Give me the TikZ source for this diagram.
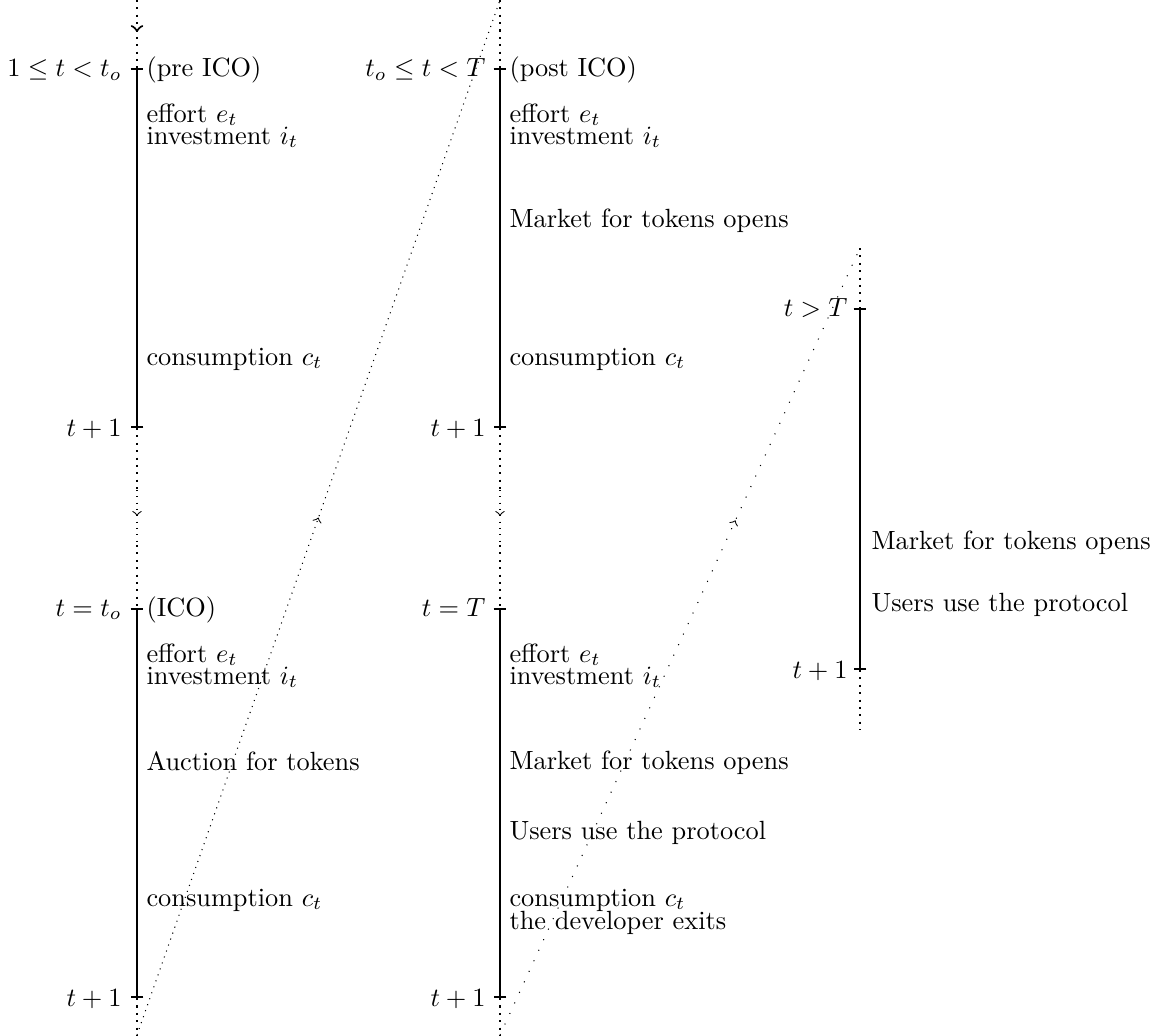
\documentclass[tikz,border=0pt]{standalone}
\usetikzlibrary{arrows.meta,decorations.markings}
\begin{document}
\begin{tikzpicture}[x=0.3797pt,y=-0.3797pt,
  period/.style={thick,{Bar[width=4.9pt]}-{Bar[width=4.9pt]}},
  gap/.style={thick,dotted},
  thingap/.style={dotted},
  looselink/.style={loosely dotted},
  midarrow/.style={postaction={decorate},
    decoration={markings,mark=at position #1 with {\arrow{to}}}},
  when/.style={anchor=base east,inner sep=0pt},
  what/.style={anchor=base west,inner sep=0pt}]
\useasboundingbox (0,0) rectangle (1161,1035);

% ---- column 1: pre ICO and ICO periods ----
\coordinate (a0) at (137,0);
\coordinate (a1) at (137,68);
\coordinate (a2) at (137,428);
\coordinate (a2b) at (137,490);
\coordinate (a3b) at (137,545);
\coordinate (a3) at (137,608);
\coordinate (a4) at (137,998);
\coordinate (a5) at (137,1035);

% ---- column 2: post ICO periods and last period ----
\coordinate (b0) at (500,0);
\coordinate (b1) at (500,68);
\coordinate (b2) at (500,428);
\coordinate (b2b) at (500,490);
\coordinate (b3b) at (500,545);
\coordinate (b3) at (500,608);
\coordinate (b4) at (500,998);
\coordinate (b5) at (500,1035);

% ---- column 3: after T ----
\coordinate (c0) at (860,248);
\coordinate (c1) at (860,308);
\coordinate (c2) at (860,670);
\coordinate (c3) at (860,730);

% timelines
\draw[period] (a1) -- (a2);
\draw[period] (a3) -- (a4);
\draw[period] (b1) -- (b2);
\draw[period] (b3) -- (b4);
\draw[period] (c1) -- (c2);

% dotted continuations
\draw[gap,midarrow=0.47] (a0) -- (a1);
\draw[gap] (a2) -- (a2b);
\draw[thingap,midarrow=0.47] (a2b) -- (a3b);
\draw[gap] (a3b) -- (a3);
\draw[gap] (a4) -- (a5);

\draw[gap] (b0) -- (b1);
\draw[gap] (b2) -- (b2b);
\draw[thingap,midarrow=0.47] (b2b) -- (b3b);
\draw[gap] (b3b) -- (b3);
\draw[gap] (b4) -- (b5);

\draw[gap] (c0) -- (c1);
\draw[gap] (c2) -- (c3);

% links between columns
\draw[thingap,midarrow=0.5] (a5) -- (b0);
\draw[looselink,midarrow=0.654] (b5) -- (c0);

% labels, column 1
\node[when] (la1) at (122,77) {$1\leq t<t_o$};
\node[what] (ra1) at (146,77) {(pre ICO)};
\node[what] (ra2) at (146,122) {effort $e_t$};
\node[what] (ra3) at (146,144) {investment $i_t$};
\node[what] (ra4) at (146,365) {consumption $c_t$};
\node[when] (la2) at (122,436) {$t+1$};

\node[when] (la3) at (122,616) {$t=t_o$};
\node[what] (ra5) at (146,616) {(ICO)};
\node[what] (ra6) at (146,662) {effort $e_t$};
\node[what] (ra7) at (146,684) {investment $i_t$};
\node[what] (ra8) at (146,770) {Auction for tokens};
\node[what] (ra9) at (146,906) {consumption $c_t$};
\node[when] (la4) at (122,1006) {$t+1$};

% labels, column 2
\node[when] (lb1) at (486,77) {$t_o\leq t<T$};
\node[what] (rb1) at (509,77) {(post ICO)};
\node[what] (rb2) at (509,122) {effort $e_t$};
\node[what] (rb3) at (509,144) {investment $i_t$};
\node[what] (rb4) at (509,227) {Market for tokens opens};
\node[what] (rb5) at (509,365) {consumption $c_t$};
\node[when] (lb2) at (486,436) {$t+1$};

\node[when] (lb3) at (486,616) {$t=T$};
\node[what] (rb6) at (509,662) {effort $e_t$};
\node[what] (rb7) at (509,684) {investment $i_t$};
\node[what] (rb8) at (509,769) {Market for tokens opens};
\node[what] (rb9) at (509,839) {Users use the protocol};
\node[what] (rb10) at (509,906) {consumption $c_t$};
\node[what] (rb11) at (509,929) {the developer exits};
\node[when] (lb4) at (486,1006) {$t+1$};

% labels, column 3
\node[when] (lc1) at (848,316) {$t>T$};
\node[what] (rc1) at (871,549) {Market for tokens opens};
\node[what] (rc2) at (871,611) {Users use the protocol};
\node[when] (lc2) at (848,678) {$t+1$};
\end{tikzpicture}
\end{document}
